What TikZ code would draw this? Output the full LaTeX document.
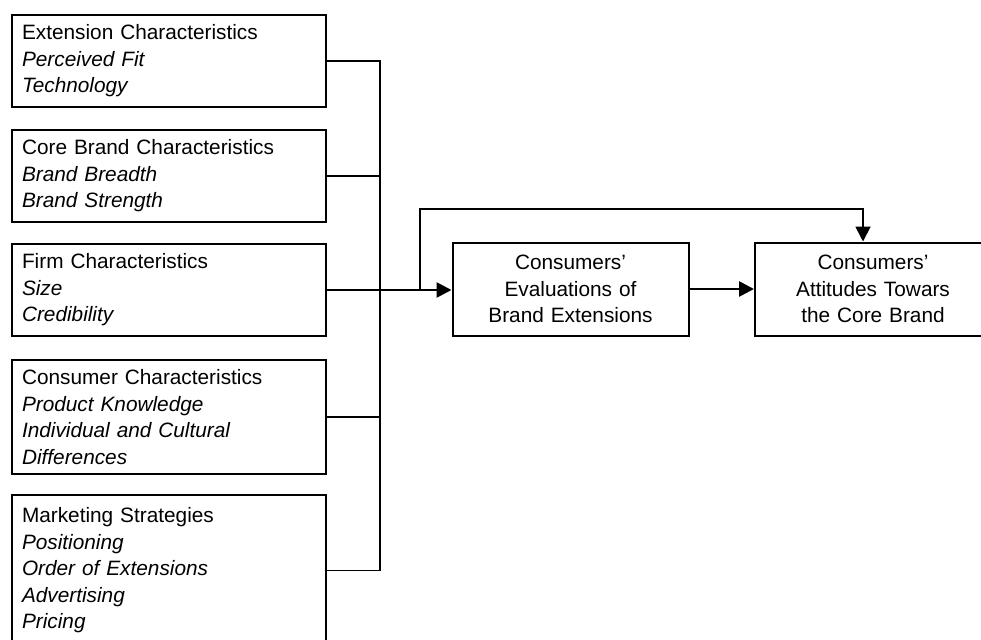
\documentclass[tikz,border=0pt]{standalone}
\usepackage{fontspec}
\setmainfont{Liberation Sans}
\usetikzlibrary{arrows.meta}
\begin{document}
\begin{tikzpicture}[x=1pt,y=-1pt,
  every node/.style={font=\fontsize{20.8}{26.5}\selectfont},
  factor/.style={draw,line width=2pt,anchor=north west,inner xsep=10pt,inner ysep=0pt,
    text width=294pt,minimum width=314pt,align=left},
  outcome/.style={draw,line width=2pt,inner sep=0pt,text width=236pt,
    minimum height=93pt,align=center},
  link/.style={line width=1.9pt},
  mainlink/.style={line width=2.7pt},
  tip/.style={-{Triangle[length=15pt,width=15pt]}}]
  \useasboundingbox (0,0) rectangle (981,639);
  \clip (0,0) rectangle (981,639);

  % factor boxes on the left
  \node[factor,minimum height=92pt] (ext) at (11,14)
    {Extension Characteristics\\\textit{Perceived Fit}\\\textit{Technology}};
  \node[factor,minimum height=92pt] (core) at (11,129)
    {Core Brand Characteristics\\\textit{Brand Breadth}\\\textit{Brand Strength}};
  \node[factor,minimum height=92pt] (firm) at (11,243)
    {Firm Characteristics\\\textit{Size}\\\textit{Credibility}};
  \node[factor,minimum height=114pt] (cons) at (11,359)
    {Consumer Characteristics\\\textit{Product Knowledge}\\\textit{Individual and Cultural}\\\textit{Differences}};
  \node[factor,minimum height=151pt] (mkt) at (11,494)
    {Marketing Strategies\\\textit{Positioning}\\\textit{Order of Extensions}\\\textit{Advertising}\\\textit{Pricing}};

  % outcome boxes
  \node[outcome] (eval) at (570.5,289)
    {Consumers’\\Evaluations of\\Brand Extensions};
  \node[outcome] (att) at (873,289)
    {Consumers’\\Attitudes Towars\\the Core Brand};

  % collecting bus
  \coordinate (bus) at (380,0);
  \coordinate (fbA) at (420,209);
  \coordinate (fbB) at (863,209);

  \draw[link] (ext.east) -- (ext.east -| bus) -- (mkt.east -| bus) -- (mkt.east);
  \draw[link] (core.east) -- (core.east -| bus);
  \draw[link] (cons.east) -- (cons.east -| bus);

  % main flow
  \draw[mainlink,tip] (firm.east) -- (firm.east -| eval.west);
  \draw[mainlink,tip] (eval.east) -- (eval.east -| att.west);

  % direct path to the core brand
  \draw[link,tip] (firm.east -| fbA) -- (fbA) -- (fbB) -- (fbB |- att.north);
\end{tikzpicture}
\end{document}
